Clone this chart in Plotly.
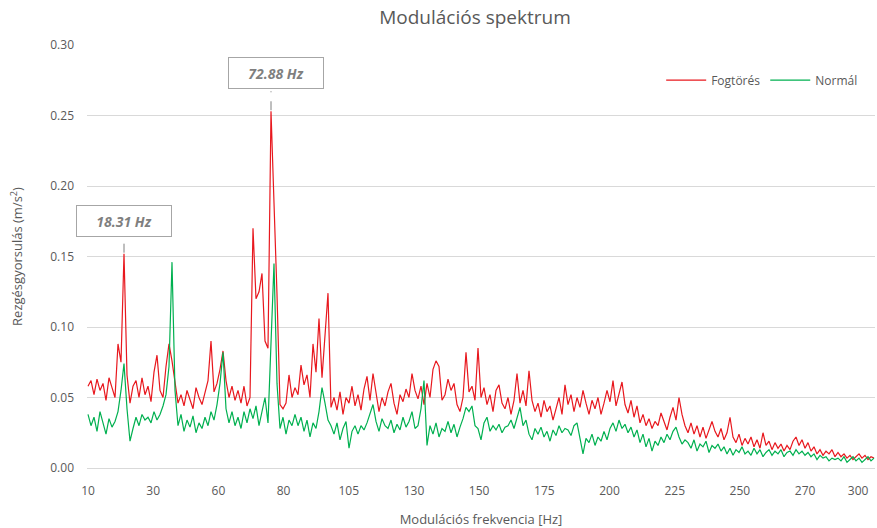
import numpy as np
import plotly.graph_objects as go

# Modulation spectrum, one value per FFT bin (m/s^2)
fogtores = [
    0.058, 0.062, 0.052, 0.063, 0.055, 0.060, 0.048, 0.064, 0.057, 0.050,
    0.088, 0.075, 0.152, 0.066, 0.046, 0.058, 0.062, 0.050, 0.064, 0.052,
    0.058, 0.047, 0.068, 0.080, 0.055, 0.050, 0.072, 0.088, 0.076, 0.060,
    0.046, 0.052, 0.044, 0.055, 0.048, 0.042, 0.057, 0.050, 0.045, 0.053,
    0.062, 0.090, 0.054, 0.060, 0.070, 0.083, 0.062, 0.050, 0.058, 0.048,
    0.055, 0.046, 0.058, 0.044, 0.050, 0.170, 0.120, 0.125, 0.138, 0.090,
    0.085, 0.253, 0.192, 0.123, 0.045, 0.042, 0.046, 0.066, 0.050, 0.057,
    0.052, 0.073, 0.059, 0.066, 0.050, 0.088, 0.068, 0.106, 0.064, 0.092,
    0.124, 0.043, 0.050, 0.041, 0.054, 0.038, 0.050, 0.046, 0.058, 0.044,
    0.052, 0.041, 0.056, 0.065, 0.048, 0.067, 0.052, 0.040, 0.050, 0.044,
    0.054, 0.060, 0.046, 0.038, 0.052, 0.047, 0.056, 0.050, 0.067, 0.055,
    0.049, 0.058, 0.045, 0.060, 0.050, 0.070, 0.076, 0.072, 0.048, 0.052,
    0.063, 0.055, 0.060, 0.045, 0.040, 0.050, 0.082, 0.054, 0.058, 0.048,
    0.085, 0.050, 0.057, 0.045, 0.052, 0.040, 0.055, 0.059, 0.046, 0.042,
    0.050, 0.038, 0.048, 0.067, 0.046, 0.055, 0.044, 0.069, 0.048, 0.040,
    0.046, 0.036, 0.048, 0.040, 0.044, 0.034, 0.042, 0.050, 0.038, 0.059,
    0.045, 0.052, 0.040, 0.050, 0.043, 0.055, 0.046, 0.038, 0.048, 0.042,
    0.050, 0.038, 0.046, 0.055, 0.047, 0.062, 0.044, 0.052, 0.061, 0.045,
    0.039, 0.048, 0.036, 0.044, 0.032, 0.038, 0.030, 0.035, 0.028, 0.033,
    0.030, 0.039, 0.033, 0.027, 0.036, 0.043, 0.034, 0.050, 0.038, 0.030,
    0.025, 0.032, 0.024, 0.030, 0.022, 0.029, 0.021, 0.027, 0.033, 0.026,
    0.022, 0.028, 0.020, 0.025, 0.036, 0.022, 0.018, 0.024, 0.016, 0.021,
    0.017, 0.022, 0.015, 0.020, 0.014, 0.025, 0.016, 0.019, 0.013, 0.018,
    0.014, 0.017, 0.012, 0.016, 0.013, 0.019, 0.022, 0.016, 0.020, 0.014,
    0.018, 0.012, 0.015, 0.010, 0.013, 0.009, 0.012, 0.010, 0.013, 0.008,
    0.011, 0.008, 0.010, 0.007, 0.009, 0.006, 0.008, 0.010, 0.007, 0.009,
    0.006, 0.008, 0.007,
]

normal = [
    0.038, 0.030, 0.036, 0.026, 0.040, 0.031, 0.024, 0.035, 0.029, 0.033,
    0.040, 0.055, 0.074, 0.042, 0.019, 0.028, 0.036, 0.030, 0.038, 0.034,
    0.036, 0.032, 0.040, 0.034, 0.038, 0.044, 0.052, 0.072, 0.146, 0.055,
    0.030, 0.038, 0.026, 0.034, 0.029, 0.037, 0.025, 0.032, 0.028, 0.036,
    0.030, 0.040, 0.034, 0.045, 0.060, 0.082, 0.042, 0.032, 0.040, 0.030,
    0.036, 0.028, 0.040, 0.032, 0.042, 0.035, 0.044, 0.030, 0.040, 0.050,
    0.032, 0.090, 0.145, 0.060, 0.028, 0.036, 0.024, 0.034, 0.030, 0.038,
    0.030, 0.036, 0.026, 0.034, 0.022, 0.032, 0.028, 0.040, 0.057, 0.046,
    0.034, 0.030, 0.024, 0.032, 0.020, 0.028, 0.033, 0.014, 0.026, 0.030,
    0.024, 0.030, 0.027, 0.032, 0.038, 0.045, 0.033, 0.026, 0.035, 0.030,
    0.028, 0.034, 0.025, 0.031, 0.027, 0.036, 0.029, 0.033, 0.040, 0.028,
    0.030, 0.042, 0.062, 0.016, 0.030, 0.024, 0.032, 0.022, 0.028, 0.026,
    0.033, 0.025, 0.031, 0.022, 0.029, 0.035, 0.043, 0.040, 0.044, 0.030,
    0.028, 0.020, 0.032, 0.036, 0.026, 0.030, 0.027, 0.031, 0.025, 0.029,
    0.030, 0.034, 0.028, 0.036, 0.043, 0.030, 0.034, 0.024, 0.020, 0.028,
    0.024, 0.029, 0.022, 0.026, 0.019, 0.027, 0.023, 0.030, 0.025, 0.028,
    0.027, 0.023, 0.030, 0.032, 0.022, 0.010, 0.021, 0.018, 0.024, 0.016,
    0.022, 0.019, 0.026, 0.020, 0.028, 0.032, 0.026, 0.034, 0.028, 0.031,
    0.025, 0.029, 0.022, 0.027, 0.018, 0.024, 0.015, 0.021, 0.012, 0.019,
    0.016, 0.022, 0.018, 0.024, 0.020, 0.026, 0.029, 0.022, 0.017, 0.020,
    0.018, 0.014, 0.020, 0.012, 0.017, 0.015, 0.019, 0.011, 0.016, 0.014,
    0.017, 0.012, 0.015, 0.010, 0.014, 0.009, 0.013, 0.011, 0.015, 0.010,
    0.012, 0.009, 0.014, 0.010, 0.013, 0.008, 0.011, 0.013, 0.009, 0.012,
    0.010, 0.013, 0.008, 0.011, 0.012, 0.009, 0.013, 0.010, 0.012, 0.009,
    0.011, 0.008, 0.010, 0.006, 0.009, 0.007, 0.008, 0.005, 0.007, 0.006,
    0.007, 0.005, 0.008, 0.004, 0.006, 0.008, 0.005, 0.007, 0.004, 0.006,
    0.008, 0.005, 0.007,
]

# Category labels shown along the frequency axis
x_tick_labels = ["10", "30", "60", "80", "105", "130", "150", "175",
                 "200", "225", "250", "270", "300"]

# FFT bin layout
f_start = 4.946      # Hz, first bin
f_step = 1.11367     # Hz, bin width
n_bins = len(fogtores)
assert len(normal) == n_bins
freq = f_start + f_step * np.arange(n_bins)

# labels sit every ~21.7 bins; the last one is pulled in a little
label_bins = [21.73 * i for i in range(len(x_tick_labels) - 1)] + [256.7]
tick_pos = [f_start + f_step * b for b in label_bins]

GRID = "#d9d9d9"
TEXT = "#595959"
FONT = "Open Sans, Noto Sans, sans-serif"

fig = go.Figure()
fig.add_trace(go.Scatter(
    x=freq, y=fogtores, mode="lines", name="Fogtörés",
    line=dict(color="#e8181e", width=1.2),
))
fig.add_trace(go.Scatter(
    x=freq, y=normal, mode="lines", name="Normál",
    line=dict(color="#00b050", width=1.2),
))

# Highlight the two gear-fault peaks of the faulty spectrum
fog = np.array(fogtores)
peaks = [int(np.argmax(fog[:30])), int(np.argmax(fog))]
lifts = [33, 38]          # label height above the peak, px
shifts = [0, 5]           # small sideways nudge of the label box, px
for idx, lift, dx in zip(peaks, lifts, shifts):
    fx, fy = float(freq[idx]), float(fog[idx])
    fig.add_annotation(
        x=fx, y=fy, xref="x", yref="y",
        text=f"{fx:.2f} Hz", showarrow=False,
        yshift=lift, xshift=dx,
        font=dict(family=FONT, size=14, color="#7f7f7f",
                  weight="bold", style="italic"),
        bgcolor="white", bordercolor="#a6a6a6", borderwidth=1,
        borderpad=3, width=88, height=24,
    )
    fig.add_shape(
        type="line", xref="x", yref="y",
        xsizemode="scaled", ysizemode="pixel", yanchor=fy,
        x0=fx, x1=fx, y0=1, y1=lift - 18,
        line=dict(color="#7f7f7f", width=1, dash="dash"),
    )

fig.update_layout(
    width=877, height=528,
    margin=dict(l=87, r=2, t=45, b=60),
    paper_bgcolor="white", plot_bgcolor="white",
    font=dict(family=FONT, color=TEXT, size=12),
    title=dict(
        text="Modulációs spektrum",
        x=475 / 877, xanchor="center", xref="container",
        y=1 - 17 / 528, yanchor="middle", yref="container",
        font=dict(family=FONT, size=19, color=TEXT),
    ),
    showlegend=True,
    legend=dict(
        orientation="h", x=0.985, xanchor="right", y=0.917, yanchor="middle",
        bgcolor="rgba(0,0,0,0)", font=dict(family=FONT, size=12, color=TEXT),
        itemwidth=40, tracegroupgap=0,
    ),
    xaxis=dict(
        range=[f_start - f_step / 3, f_start + f_step * (n_bins - 1 + 1 / 3)],
        tickmode="array", tickvals=tick_pos, ticktext=x_tick_labels,
        showgrid=False, zeroline=False, showline=False, ticks="",
        ticklabelstandoff=14,
        tickfont=dict(family=FONT, size=12, color=TEXT),
        title=dict(text="Modulációs frekvencia [Hz]", standoff=18,
                   font=dict(family=FONT, size=13, color=TEXT)),
    ),
    yaxis=dict(
        range=[0, 0.30], tickmode="array",
        tickvals=[0, 0.05, 0.10, 0.15, 0.20, 0.25, 0.30],
        tickformat=".2f",
        showgrid=True, gridcolor=GRID, gridwidth=1,
        zeroline=True, zerolinecolor=GRID, zerolinewidth=1,
        showline=False, ticks="", ticklabelstandoff=12,
        tickfont=dict(family=FONT, size=12, color=TEXT),
        title=dict(text="Rezgésgyorsulás (m/s<sup>2</sup>)", standoff=24,
                   font=dict(family=FONT, size=13, color=TEXT)),
    ),
)

fig.write_html("out.html")
